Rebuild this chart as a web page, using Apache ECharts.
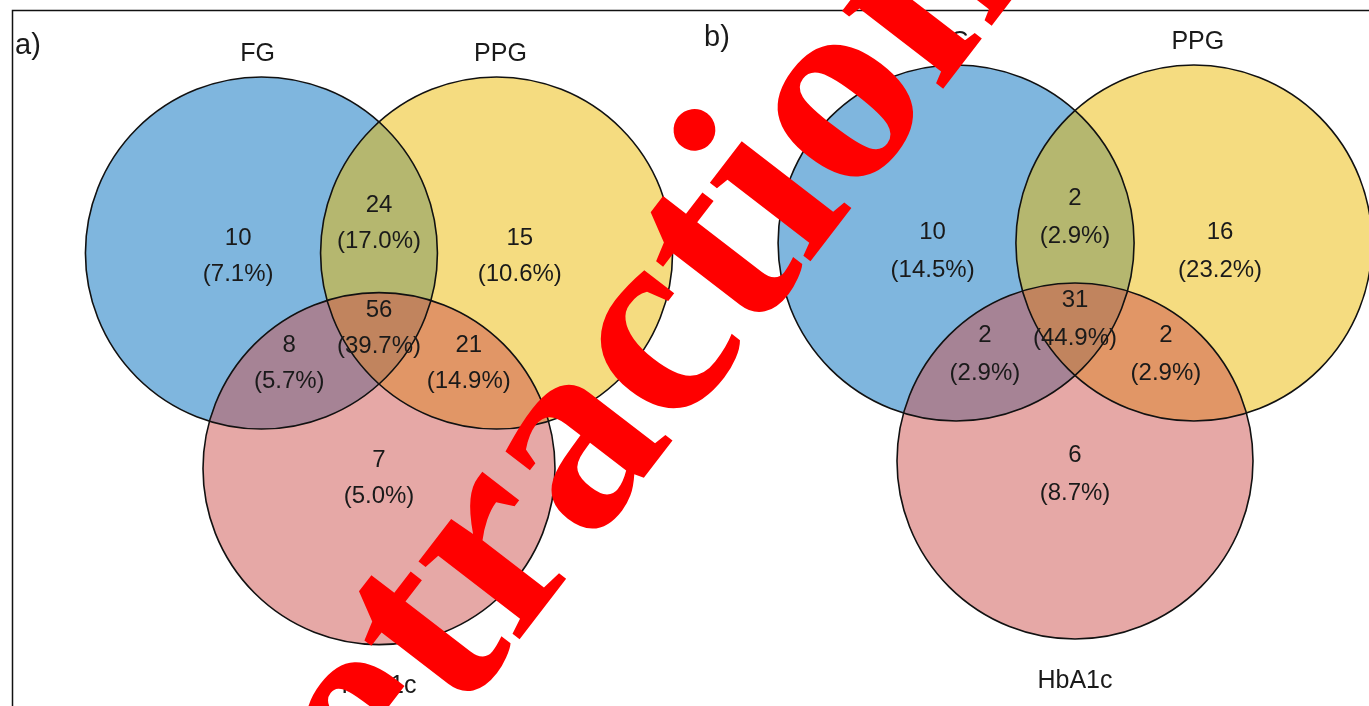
<!DOCTYPE html>
<html>
<head>
<meta charset="utf-8">
<script src="https://cdn.jsdelivr.net/npm/echarts@6/dist/echarts.min.js"></script>
<style>
  html, body { margin: 0; padding: 0; background: #fff; }
  #chart { width: 1369px; height: 706px; }
</style>
</head>
<body>
<div id="chart"></div>
<script>
// sets and region counts (order of regions below)
var setNames = ['FG', 'PPG', 'HbA1c']
var regionNames = ['FG', 'FG∩PPG', 'PPG', 'FG∩HbA1c', 'FG∩PPG∩HbA1c', 'PPG∩HbA1c', 'HbA1c']
var countsA = [10, 24, 15, 8, 56, 21, 7]
var countsB = [10, 2, 16, 2, 31, 2, 6]
var panelTags = ['a)', 'b)']

// venn layout, in units of circle radius
var circleCenters = [[-0.668, 0], [0.668, 0], [0, 1.225]]
var regionSpotsA = [[-0.80, 0.02], [0, -0.17], [0.80, 0.02], [-0.51, 0.625], [0, 0.43], [0.51, 0.625], [0, 1.28]]
var regionSpotsB = [[-0.80, 0.045], [0, -0.145], [0.815, 0.045], [-0.506, 0.624], [0, 0.43], [0.511, 0.624], [0, 1.30]]
var setLabelSpots = [[-0.69, -1.13], [0.69, -1.13], [0, 2.46]]
var fills = ['rgba(0,109,189,0.5)', 'rgba(235,185,1,0.5)', 'rgba(205,81,77,0.5)']

function pct(v, all) {
  var total = all.reduce(function (s, x) { return s + x }, 0)
  return (v / total * 100).toFixed(1) + '%'
}

var chart = echarts.init(document.getElementById('chart'))

function circleSeries(gridIdx, outline) {
  return {
    type: 'custom',
    xAxisIndex: gridIdx,
    yAxisIndex: gridIdx,
    silent: true,
    clip: false,
    data: circleCenters.map(function (c, i) { return [c[0], c[1], i] }),
    renderItem: function (params, api) {
      var p = api.coord([api.value(0), api.value(1)])
      var r = api.size([1, 1])[0]
      return {
        type: 'circle',
        shape: { cx: p[0], cy: p[1], r: r },
        style: outline
          ? { fill: 'none', stroke: '#111', lineWidth: 1.6 }
          : { fill: fills[api.value(2)] }
      }
    }
  }
}

function textSeries(gridIdx, spots, texts, size, lh) {
  return {
    type: 'custom',
    xAxisIndex: gridIdx,
    yAxisIndex: gridIdx,
    silent: true,
    clip: false,
    data: spots.map(function (s, i) { return [s[0], s[1], i] }),
    renderItem: function (params, api) {
      var p = api.coord([api.value(0), api.value(1)])
      return {
        type: 'text',
        x: p[0],
        y: p[1],
        style: {
          text: texts[api.value(2)],
          fill: '#1a1a1a',
          font: size + 'px "Liberation Sans", Arial, sans-serif',
          align: 'center',
          verticalAlign: 'middle',
          lineHeight: lh
        }
      }
    }
  }
}

function regionTexts(counts) {
  return counts.map(function (v) { return v + '\n(' + pct(v, counts) + ')' })
}

var option = {
  animation: false,
  grid: [
    { left: 27, top: 6.6, width: 704, height: 695.2, outerBoundsMode: 'none' },
    { left: 772.4, top: 11.6, width: 596.3, height: 676.4, outerBoundsMode: 'none' }
  ],
  xAxis: [
    { type: 'value', gridIndex: 0, min: -2, max: 2, show: false },
    { type: 'value', gridIndex: 1, min: -1.7, max: 1.65, show: false }
  ],
  yAxis: [
    { type: 'value', gridIndex: 0, min: -1.4, max: 2.55, inverse: true, show: false },
    { type: 'value', gridIndex: 1, min: -1.3, max: 2.5, inverse: true, show: false }
  ],
  series: [
    circleSeries(0, false),
    circleSeries(0, true),
    circleSeries(1, false),
    circleSeries(1, true),
    textSeries(0, regionSpotsA, regionTexts(countsA), 24, 36),
    textSeries(1, regionSpotsB, regionTexts(countsB), 24, 38),
    textSeries(0, setLabelSpots, setNames, 25, 26),
    textSeries(1, setLabelSpots, setNames, 25, 26)
  ],
  graphic: [
    {
      type: 'rect', silent: true,
      shape: { x: 12.5, y: 10.5, width: 1400, height: 800 },
      style: { fill: 'none', stroke: '#111', lineWidth: 1.5 }
    },
    {
      type: 'text', x: 15, y: 46,
      style: { text: panelTags[0], fill: '#1a1a1a', font: '29px "Liberation Sans", Arial, sans-serif', verticalAlign: 'middle' }
    },
    {
      type: 'text', x: 704, y: 38,
      style: { text: panelTags[1], fill: '#1a1a1a', font: '29px "Liberation Sans", Arial, sans-serif', verticalAlign: 'middle' }
    },
    {
      // retraction watermark
      type: 'text', silent: true, z: 100,
      x: 590, y: 430, rotation: 0.915,
      style: {
        text: 'Retraction',
        fill: '#ff0000',
        font: 'bold 278px "Liberation Serif", "Times New Roman", serif',
        align: 'center',
        verticalAlign: 'middle'
      }
    }
  ]
}

chart.setOption(option)
</script>
</body>
</html>
